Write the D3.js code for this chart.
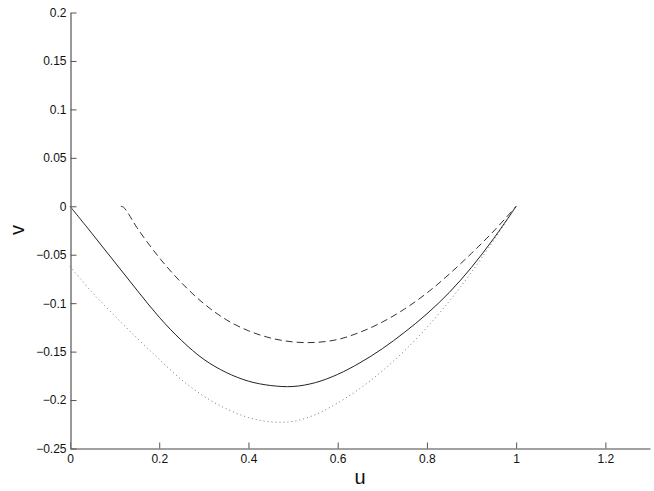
<!DOCTYPE html>
<html><head><meta charset="utf-8">
<script src="https://cdn.jsdelivr.net/npm/d3@7"></script>
<style>body{margin:0;background:#fff}svg{display:block}text{font-family:"Liberation Sans",Arial,sans-serif}</style>
</head><body><svg id="c" width="654" height="491"></svg>
<script>
const xTicks = [0, 0.2, 0.4, 0.6, 0.8, 1, 1.2];
const yTicks = [-0.25, -0.2, -0.15, -0.1, -0.05, 0, 0.05, 0.1, 0.15, 0.2];
const xLabel = "u", yLabel = "v";

const solidU = [0, 0.05, 0.1, 0.15, 0.2, 0.25, 0.3, 0.35, 0.4, 0.45, 0.5, 0.55, 0.6, 0.65, 0.7, 0.75, 0.8, 0.85, 0.9, 0.95, 1.0];
const solidV = [0, -0.0285, -0.0575, -0.0865, -0.1145, -0.1385, -0.158, -0.1715, -0.1805, -0.185, -0.186, -0.182, -0.1735, -0.1615, -0.147, -0.130, -0.111, -0.089, -0.063, -0.033, 0];

const dashedU = [0.114, 0.12, 0.13, 0.15, 0.2, 0.25, 0.3, 0.35, 0.4, 0.45, 0.5, 0.55, 0.6, 0.65, 0.7, 0.75, 0.8, 0.85, 0.9, 0.95, 1.0];
const dashedV = [0, -0.001, -0.007, -0.022, -0.053, -0.079, -0.1005, -0.117, -0.1285, -0.136, -0.140, -0.1405, -0.1375, -0.130, -0.1195, -0.106, -0.0895, -0.070, -0.0485, -0.0255, 0];

const dottedU = [0, 0.05, 0.1, 0.15, 0.2, 0.25, 0.3, 0.35, 0.4, 0.45, 0.5, 0.55, 0.6, 0.65, 0.7, 0.75, 0.8, 0.85, 0.9, 0.95, 1.0];
const dottedV = [-0.062, -0.089, -0.113, -0.136, -0.158, -0.179, -0.196, -0.209, -0.218, -0.2225, -0.222, -0.215, -0.203, -0.188, -0.170, -0.149, -0.125, -0.098, -0.068, -0.035, 0];

const svg = d3.select("#c");
const x = d3.scaleLinear().domain([0, 1.3]).range([70, 650]);
const y = d3.scaleLinear().domain([-0.25, 0.2]).range([448.5, 12.5]);
const fmt = d => (d < 0 ? "\u2212" : "") + String(+Math.abs(d).toFixed(2));

const line = d3.line().x(d => x(d[0])).y(d => y(d[1])).curve(d3.curveCatmullRom);
const zip = (a, b) => a.map((v, i) => [v, b[i]]);

svg.append("path").datum(zip(dottedU, dottedV)).attr("d", line)
  .attr("fill", "none").attr("stroke", "#777").attr("stroke-width", 1).attr("stroke-dasharray", "1,3");
svg.append("path").datum(zip(dashedU, dashedV)).attr("d", line)
  .attr("fill", "none").attr("stroke", "#333").attr("stroke-width", 1).attr("stroke-dasharray", "7,4");
svg.append("path").datum(zip(solidU, solidV)).attr("d", line)
  .attr("fill", "none").attr("stroke", "#222").attr("stroke-width", 1);

const gx = svg.append("g").attr("transform", "translate(0,448.5)")
  .call(d3.axisBottom(x).tickValues(xTicks).tickFormat(fmt).tickSizeInner(-6).tickSizeOuter(0).tickPadding(6));
const gy = svg.append("g").attr("transform", "translate(70.5,0)")
  .call(d3.axisLeft(y).tickValues(yTicks).tickFormat(fmt).tickSizeInner(-6).tickSizeOuter(0).tickPadding(4));
[gx, gy].forEach(g => {
  g.selectAll(".tick line").attr("stroke", "#555");
  g.selectAll("text").attr("font-size", 12).attr("fill", "#111").attr("font-family", "Liberation Sans, Arial, sans-serif");
});
gx.select(".domain").attr("stroke", "#444");
gy.select(".domain").attr("stroke", "#777").attr("stroke-width", 1.5);

svg.append("text").attr("x", 360).attr("y", 484).attr("text-anchor", "middle")
  .attr("font-size", 20).attr("fill", "#111").text(xLabel);
svg.append("text").attr("transform", "translate(24,230) rotate(-90)").attr("text-anchor", "middle")
  .attr("font-size", 20).attr("fill", "#111").text(yLabel);
</script></body></html>
